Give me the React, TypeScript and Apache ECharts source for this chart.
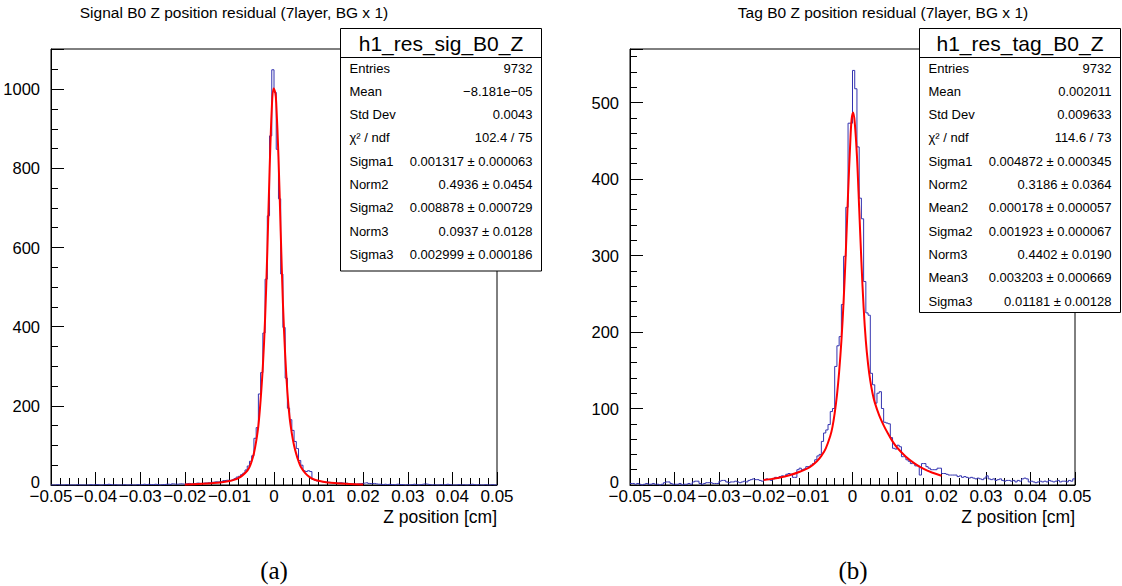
import React, { useEffect, useRef } from 'react';
import * as echarts from 'echarts';

// ---------------- data ----------------
const BIN_MIN = -0.05;
const BIN_WIDTH = 0.0005;

// Signal B0 Z residual: 200 bins from -0.05 to 0.05
const sigCounts = [
  0, 0, 1, 0, 0, 0, 1, 0, 0, 0,
  0, 1, 0, 0, 0, 0, 0, 1, 0, 1,
  1, 0, 0, 1, 1, 2, 1, 0, 1, 0,
  0, 0, 1, 0, 0, 1, 0, 0, 1, 0,
  1, 2, 1, 2, 1, 1, 2, 1, 0, 1,
  1, 2, 2, 1, 3, 2, 2, 3, 3, 2,
  3, 4, 3, 3, 4, 5, 4, 4, 5, 5,
  6, 5, 7, 8, 8, 8, 9, 11, 12, 12,
  11, 13, 16, 20, 22, 26, 30, 38, 48, 60,
  74, 118, 145, 230, 284, 384, 520, 680, 882, 1049,
  992, 848, 723, 533, 398, 270, 194, 165, 138, 110,
  92, 62, 50, 36, 34, 36, 34, 14, 12, 10,
  9, 8, 8, 7, 7, 6, 6, 5, 5, 6,
  5, 4, 5, 3, 3, 3, 2, 3, 3, 4,
  5, 6, 4, 3, 4, 3, 2, 2, 1, 2,
  1, 2, 1, 1, 0, 2, 1, 1, 0, 1,
  0, 1, 2, 1, 0, 1, 2, 3, 2, 1,
  0, 1, 0, 0, 1, 0, 1, 2, 1, 0,
  0, 0, 1, 0, 1, 0, 0, 1, 2, 1,
  0, 1, 0, 0, 1, 0, 0, 1, 0, 0,
];

// Tag B0 Z residual: 200 bins from -0.05 to 0.05
const tagCounts = [
  2, 2, 1, 2, 1, 0, 1, 2, 1, 1,
  2, 1, 1, 0, 1, 3, 4, 4, 2, 1,
  1, 1, 2, 0, 1, 1, 2, 1, 4, 5,
  5, 2, 1, 2, 3, 3, 3, 2, 2, 2,
  5, 6, 6, 4, 3, 4, 4, 5, 4, 3,
  4, 5, 4, 6, 7, 8, 7, 7, 6, 5,
  7, 8, 7, 6, 8, 10, 9, 11, 12, 11,
  14, 15, 14, 10, 10, 20, 22, 20, 21, 24,
  24, 26, 28, 33, 38, 40, 57, 68, 72, 79,
  96, 100, 155, 182, 194, 236, 299, 363, 473, 473,
  542, 518, 442, 375, 348, 266, 225, 222, 146, 131,
  107, 120, 122, 100, 82, 81, 80, 62, 48, 47,
  52, 50, 37, 37, 33, 31, 28, 28, 25, 25,
  13, 28, 28, 24, 22, 20, 20, 20, 22, 22,
  15, 15, 14, 13, 13, 13, 13, 11, 12, 10,
  11, 10, 9, 10, 9, 8, 9, 8, 7, 9,
  12, 8, 7, 8, 6, 7, 8, 6, 5, 6,
  6, 5, 6, 4, 6, 5, 8, 9, 8, 4,
  5, 4, 3, 4, 5, 4, 5, 4, 6, 5,
  4, 5, 6, 4, 5, 5, 4, 6, 5, 8,
];

// fitted curves: [x (cm), entries]
const sigFit: [number, number][] = [
  [-0.02, 1.5], [-0.018, 2], [-0.016, 3], [-0.014, 4.5], [-0.012, 6.5],
  [-0.01, 10], [-0.009, 13], [-0.008, 17.5], [-0.007, 25], [-0.006, 36],
  [-0.0055, 45], [-0.005, 60], [-0.0045, 80], [-0.004, 110], [-0.0035, 150],
  [-0.003, 215], [-0.0025, 300], [-0.002, 420], [-0.0015, 590], [-0.001, 790],
  [-0.0005, 950], [-0.0001, 1002], [0.0003, 990], [0.0005, 965], [0.001, 830],
  [0.0015, 640], [0.002, 460], [0.0025, 330], [0.003, 235], [0.0035, 170],
  [0.004, 130], [0.0045, 100], [0.005, 78], [0.0055, 60], [0.006, 46],
  [0.007, 30], [0.008, 20], [0.009, 14], [0.01, 10.5], [0.012, 6.5],
  [0.014, 4.5], [0.016, 3], [0.018, 2], [0.02, 1.5],
];

const tagFit: [number, number][] = [
  [-0.02, 6.5], [-0.018, 8], [-0.016, 10], [-0.014, 13], [-0.012, 17],
  [-0.01, 22], [-0.009, 26], [-0.008, 31], [-0.007, 38], [-0.006, 48],
  [-0.005, 64], [-0.0045, 76], [-0.004, 94], [-0.0035, 117], [-0.003, 148],
  [-0.0025, 188], [-0.002, 240], [-0.0015, 305], [-0.001, 380], [-0.0005, 448],
  [-0.0002, 478], [0.00015, 487], [0.0005, 474], [0.001, 430], [0.0015, 362],
  [0.002, 292], [0.0025, 232], [0.003, 188], [0.0035, 158], [0.004, 136],
  [0.0045, 120], [0.005, 108], [0.006, 91], [0.007, 78], [0.008, 67],
  [0.009, 57], [0.01, 49], [0.012, 37], [0.014, 28], [0.016, 21],
  [0.018, 16], [0.02, 12],
];

const titles = [
  'Signal B0 Z position residual (7layer, BG x 1)',
  'Tag B0 Z position residual (7layer, BG x 1)',
];
const xAxisTitle = 'Z position [cm]';
const captions = ['(a)', '(b)'];
const statTitles = ['h1_res_sig_B0_Z', 'h1_res_tag_B0_Z'];

const sigStatLabels = ['Entries', 'Mean', 'Std Dev', 'χ² / ndf', 'Sigma1', 'Norm2', 'Sigma2', 'Norm3', 'Sigma3'];
const sigStatValues = ['9732', '\u22128.181e\u221205', '0.0043', '102.4 / 75', '0.001317 ± 0.000063',
  '0.4936 ± 0.0454', '0.008878 ± 0.000729', '0.0937 ± 0.0128', '0.002999 ± 0.000186'];

const tagStatLabels = ['Entries', 'Mean', 'Std Dev', 'χ² / ndf', 'Sigma1', 'Norm2', 'Mean2', 'Sigma2', 'Norm3', 'Mean3', 'Sigma3'];
const tagStatValues = ['9732', '0.002011', '0.009633', '114.6 / 73', '0.004872 ± 0.000345',
  '0.3186 ± 0.0364', '0.000178 ± 0.000057', '0.001923 ± 0.000067', '0.4402 ± 0.0190',
  '0.003203 ± 0.000669', '0.01181 ± 0.00128'];

const yMax = [1101.5, 570];
const yMajor = [200, 100];
const yMinor = [50, 20];

// ---------------- layout ----------------
const SANS = '"Liberation Sans", Arial, sans-serif';
const GRIDS = [
  { left: 51, top: 49, width: 446, height: 436 },
  { left: 630, top: 49, width: 445, height: 436 },
];
const HIST_COLOR = '#3333b0';

function stepData(counts: number[]) {
  const pts: [number, number][] = counts.map((c, i) => [BIN_MIN + i * BIN_WIDTH, c]);
  pts.push([BIN_MIN + counts.length * BIN_WIDTH, counts[counts.length - 1]]);
  return pts;
}

function fmtX(v: number) {
  const r = Math.round(v * 100) / 100;
  if (Math.abs(r) < 1e-9) return '0';
  return (r < 0 ? '\u2212' : '') + Math.abs(r).toFixed(2);
}

function txt(x: number, y: number, text: string, font: string, align: string, z = 110) {
  return {
    type: 'text', x, y, z, silent: true,
    style: {
      text, font, fill: '#000',
      align, textAlign: align, verticalAlign: 'middle', textVerticalAlign: 'middle',
    },
  };
}

function statsBox(left: number, top: number, width: number, height: number,
  title: string, labels: string[], values: string[]) {
  const els: any[] = [];
  els.push({
    type: 'rect', z: 100, silent: true,
    shape: { x: left, y: top, width, height },
    style: { fill: '#fff', stroke: '#000', lineWidth: 1 },
  });
  els.push({
    type: 'line', z: 101, silent: true,
    shape: { x1: left, y1: top + 29, x2: left + width, y2: top + 29 },
    style: { stroke: '#000', lineWidth: 1 },
  });
  els.push(txt(left + width / 2, top + 14.5, title, `21px ${SANS}`, 'center'));
  labels.forEach((lab, i) => {
    const y = top + 39.5 + i * 23.3;
    els.push(txt(left + 9, y, lab, `13px ${SANS}`, 'left'));
    els.push(txt(left + width - 9, y, values[i], `13px ${SANS}`, 'right'));
  });
  return els;
}

export default function App() {
  const ref = useRef<HTMLDivElement>(null);
  useEffect(() => {
    if (!ref.current) return;
    const chart = echarts.init(ref.current, undefined, { renderer: 'svg' });

    const grids: any[] = [];
    const xAxes: any[] = [];
    const yAxes: any[] = [];
    [0, 1].forEach((p) => {
      grids.push({ ...GRIDS[p], show: true, borderColor: '#000', borderWidth: 1, backgroundColor: 'transparent' });
    });
    // overlay grids for minor y ticks
    [0, 1].forEach((p) => {
      grids.push({ ...GRIDS[p], show: false });
    });

    [0, 1].forEach((p) => {
      xAxes.push({
        type: 'value', gridIndex: p, min: -0.05, max: 0.05, interval: 0.01,
        axisLine: { show: true, onZero: false, lineStyle: { color: '#000', width: 1 } },
        axisTick: { show: true, inside: true, length: 13, lineStyle: { color: '#000', width: 1 } },
        minorTick: { show: true, splitNumber: 5, length: 7, lineStyle: { color: '#000', width: 1 } },
        splitLine: { show: false },
        axisLabel: { formatter: fmtX, fontFamily: SANS, fontSize: 17, color: '#000', margin: 4.5, lineHeight: 14 },
      });
    });
    [0, 1].forEach((p) => {
      xAxes.push({
        type: 'value', gridIndex: 2 + p, min: -0.05, max: 0.05, show: false,
        axisLine: { show: false, onZero: false },
      });
    });

    [0, 1].forEach((p) => {
      yAxes.push({
        type: 'value', gridIndex: p, min: 0, max: yMax[p], interval: yMajor[p],
        axisLine: { show: true, onZero: false, lineStyle: { color: '#000', width: 1 } },
        axisTick: { show: true, inside: true, length: 13, lineStyle: { color: '#000', width: 1 } },
        splitLine: { show: false },
        axisLabel: {
          formatter: (v: number) => {
            if (Math.abs(v % yMajor[p]) > 1e-6) return '';
            return v === 0 ? '{z|0}' : String(v);
          },
          rich: { z: { fontFamily: SANS, fontSize: 16.5, color: '#000', padding: [0, 0, 7, 0], lineHeight: 8 } },
          fontFamily: SANS, fontSize: 16.5, color: '#000', margin: 11, lineHeight: 8,
        },
      });
    });
    [0, 1].forEach((p) => {
      yAxes.push({
        type: 'value', gridIndex: 2 + p, min: 0, max: yMax[p], interval: yMinor[p], position: 'left',
        axisLine: { show: false, onZero: false },
        axisTick: { show: true, inside: true, length: 7, lineStyle: { color: '#000', width: 1 } },
        axisLabel: { show: false },
        splitLine: { show: false },
      });
    });

    const histSeries = (p: number, counts: number[]) => ({
      type: 'line', xAxisIndex: p, yAxisIndex: p, data: stepData(counts), step: 'end',
      symbol: 'none', silent: true, z: 3,
      lineStyle: { color: HIST_COLOR, width: 1 },
    });
    const fitSeries = (p: number, pts: [number, number][]) => ({
      type: 'line', xAxisIndex: p, yAxisIndex: p, data: pts, smooth: 0.35,
      symbol: 'none', silent: true, z: 4,
      lineStyle: { color: '#ff0000', width: 2 },
    });

    const graphics: any[] = [
      txt(234, 12, titles[0], `15.5px ${SANS}`, 'center'),
      txt(883, 12, titles[1], `15.5px ${SANS}`, 'center'),
      txt(497, 517, xAxisTitle, `17.5px ${SANS}`, 'right'),
      txt(1075, 517, xAxisTitle, `17.5px ${SANS}`, 'right'),
      txt(274, 570, captions[0], `25px "Liberation Serif", serif`, 'center'),
      txt(853, 570, captions[1], `25px "Liberation Serif", serif`, 'center'),
      ...statsBox(340.5, 28.5, 201, 242.5, statTitles[0], sigStatLabels, sigStatValues),
      ...statsBox(919.5, 28.5, 201, 284, statTitles[1], tagStatLabels, tagStatValues),
    ];

    chart.setOption({
      animation: false,
      backgroundColor: '#fff',
      grid: grids,
      xAxis: xAxes,
      yAxis: yAxes,
      series: [
        histSeries(0, sigCounts),
        fitSeries(0, sigFit),
        histSeries(1, tagCounts),
        fitSeries(1, tagFit),
      ],
      graphic: { elements: graphics },
    });
    return () => chart.dispose();
  }, []);
  return (
    <div
      ref={ref}
      style={{ position: 'absolute', left: 0, top: 0, width: 1122, height: 586, background: '#fff' }}
    />
  );
}
